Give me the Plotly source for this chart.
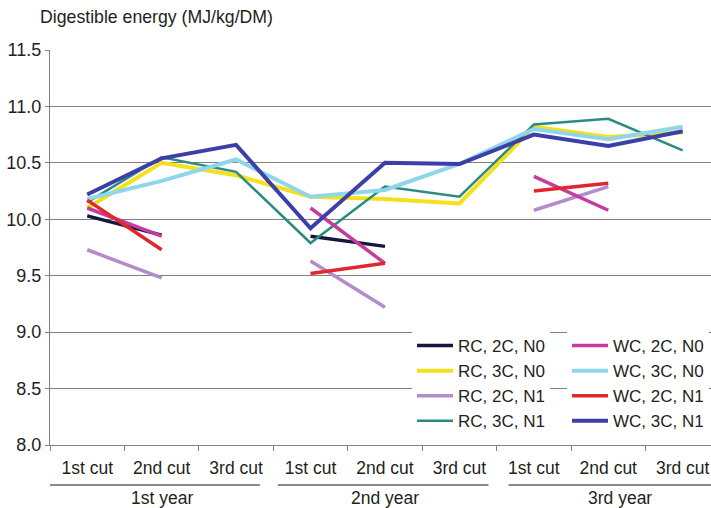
import plotly.graph_objects as go

# ---- data ----
slot_ids = ["y1c1", "y1c2", "y1c3", "y2c1", "y2c2", "y2c3", "y3c1", "y3c2", "y3c3"]
cut_labels = ["1st cut", "2nd cut", "3rd cut"] * 3
year_labels = ["1st year", "2nd year", "3rd year"]
year_label_pos = [1, 4, 7.16]
year_spans = [(-0.53, 2.32), (2.56, 5.39), (5.66, 8.7)]

rc_2c_n0 = [10.03, 9.86, None, 9.85, 9.76, None, None, None, None]
rc_3c_n0 = [10.10, 10.50, 10.39, 10.20, 10.18, 10.14, 10.82, 10.73, 10.77]
rc_2c_n1 = [9.73, 9.48, None, 9.63, 9.22, None, 10.08, 10.29, None]
rc_3c_n1 = [10.15, 10.55, 10.42, 9.79, 10.29, 10.20, 10.84, 10.89, 10.61]
wc_2c_n0 = [10.10, 9.85, None, 10.10, 9.61, None, 10.38, 10.08, None]
wc_3c_n0 = [10.18, 10.34, 10.53, 10.20, 10.26, 10.49, 10.80, 10.71, 10.82]
wc_2c_n1 = [10.17, 9.73, None, 9.52, 9.61, None, 10.25, 10.32, None]
wc_3c_n1 = [10.22, 10.54, 10.66, 9.92, 10.50, 10.49, 10.75, 10.65, 10.78]

series = [
    ("RC, 2C, N0", rc_2c_n0, "#17173d", 3.5, "legend"),
    ("RC, 3C, N0", rc_3c_n0, "#f4e11c", 4, "legend"),
    ("RC, 2C, N1", rc_2c_n1, "#b38ccb", 3.5, "legend"),
    ("RC, 3C, N1", rc_3c_n1, "#2b8b82", 2.5, "legend"),
    ("WC, 2C, N0", wc_2c_n0, "#c93a9e", 3.5, "legend2"),
    ("WC, 3C, N0", wc_3c_n0, "#8fd6ea", 4, "legend2"),
    ("WC, 2C, N1", wc_2c_n1, "#e1262d", 3.5, "legend2"),
    ("WC, 3C, N1", wc_3c_n1, "#3c3fa8", 4, "legend2"),
]

FONT = "Liberation Sans, Arial, sans-serif"
TXT = "#231f20"
GRID = "#808080"

fig = go.Figure()
for name, vals, color, width, leg in series:
    fig.add_trace(go.Scatter(
        x=slot_ids, y=vals, name=name, mode="lines",
        line=dict(color=color, width=width),
        connectgaps=False, legend=leg,
    ))

W, H = 711, 508
ml, mr, mt, mb = 50, 0, 50, H - 445
pw, ph = W - ml - mr, H - mt - mb

def px_x(px):  # window pixel -> paper x
    return (px - ml) / pw

def px_y(py):  # window pixel -> paper y
    return (H - mb - py) / ph

shapes = []
for (x0, x1) in year_spans:
    shapes.append(dict(type="line", xref="x", yref="paper", x0=x0, x1=x1,
                       y0=px_y(485), y1=px_y(485),
                       line=dict(color="#8a8a8a", width=2)))
# white backing behind legend (hides grid there)
shapes.append(dict(type="rect", xref="paper", yref="paper",
                   x0=px_x(409), x1=1.0, y0=px_y(433), y1=px_y(335),
                   fillcolor="white", line=dict(width=0), layer="between"))

annotations = [dict(text="Digestible energy (MJ/kg/DM)", xref="paper", yref="paper",
                    x=px_x(38), y=px_y(17), xanchor="left", yanchor="middle",
                    showarrow=False, font=dict(family=FONT, size=17.7, color=TXT))]
for lab, pos in zip(year_labels, year_label_pos):
    annotations.append(dict(text=lab, xref="x", yref="paper", x=pos, y=px_y(498),
                            xanchor="center", yanchor="middle", showarrow=False,
                            font=dict(family=FONT, size=17.5, color=TXT)))

legend_common = dict(bgcolor="white", borderwidth=0, yanchor="top", xanchor="left",
                     font=dict(family=FONT, size=17, color=TXT),
                     tracegroupgap=0, itemwidth=36)

fig.update_layout(
    width=W, height=H,
    margin=dict(l=ml, r=mr, t=mt, b=mb),
    paper_bgcolor="white", plot_bgcolor="white",
    font=dict(family=FONT, color=TXT),
    showlegend=True,
    legend=dict(x=px_x(412), y=px_y(328), **legend_common),
    legend2=dict(x=px_x(567), y=px_y(328), **legend_common),
    shapes=shapes,
    annotations=annotations,
    xaxis=dict(
        type="category", categoryorder="array", categoryarray=slot_ids,
        tickmode="array", tickvals=slot_ids, ticktext=cut_labels,
        tickson="boundaries", ticks="outside", ticklen=5, tickcolor=GRID, tickwidth=1.3,
        ticklabelstandoff=7,
        showline=True, linecolor=GRID, linewidth=1.3, showgrid=False,
        range=[-0.5, 8.38], fixedrange=True,
        tickfont=dict(family=FONT, size=17.5, color=TXT),
    ),
    yaxis=dict(
        range=[8.0, 11.5], dtick=0.5, tick0=8.0, tickformat=".1f",
        showgrid=True, gridcolor=GRID, gridwidth=1.3,
        showline=True, linecolor=GRID, linewidth=1.3,
        ticks="outside", ticklen=4, tickcolor=GRID, tickwidth=1.3,
        zeroline=False, fixedrange=True,
        tickfont=dict(family=FONT, size=18, color=TXT),
    ),
)

# remove the browser's default 8px page margin so the 711x508 figure fills the window
fig.write_html(
    "out.html",
    config={"displayModeBar": False},
    post_script="document.documentElement.style.margin='0';"
                "document.body.style.margin='0';"
                "document.body.style.overflow='hidden';",
)
